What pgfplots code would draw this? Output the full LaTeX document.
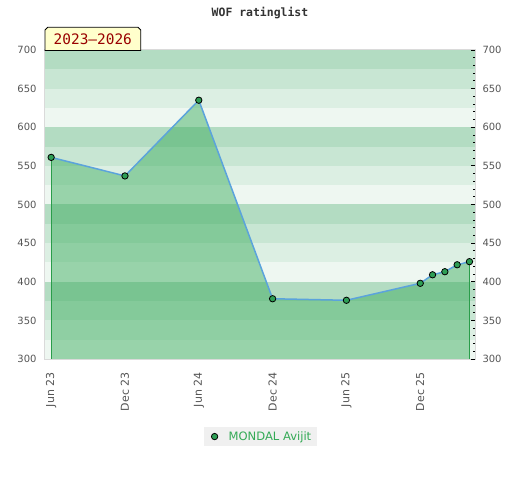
\documentclass[border=0pt]{standalone}
\usepackage{pgfplots}
\pgfplotsset{compat=1.18}
\usepackage{fontspec}
\setmainfont{DejaVu Sans}
\newfontfamily\mono{DejaVu Sans Mono}
\definecolor{bandA}{HTML}{B3DCC2}
\definecolor{bandB}{HTML}{C8E6D3}
\definecolor{bandC}{HTML}{DCEFE3}
\definecolor{bandD}{HTML}{EEF7F1}
\definecolor{areafill}{RGB}{57,171,91}
\definecolor{linecol}{HTML}{5BA3DC}
\definecolor{markcol}{HTML}{2E9E55}
\definecolor{edgecol}{HTML}{2A9D4A}
\definecolor{ticklab}{HTML}{555555}
\definecolor{framecol}{HTML}{DADADA}
\definecolor{boxfill}{HTML}{FFFFCC}
\definecolor{boxtext}{HTML}{990000}
\definecolor{legtext}{HTML}{33AA55}
\definecolor{legfill}{HTML}{F0F0F0}
\pgfplotstableread{
x y
0 561
6 537
12 635
18 378
24 376
30 398
31 409
32 413
33 422
34 426
}\ratings
\begin{document}
\begin{tikzpicture}
\path[use as bounding box] (0,0) rectangle (520bp,480bp);
\begin{axis}[
  at={(45bp,121bp)}, anchor=south west,
  scale only axis, width=430bp, height=309bp,
  xmin=-0.5, xmax=34.45, ymin=300, ymax=700,
  axis line style={draw=framecol, line width=1.2bp},
  xtick={0,6,12,18,24,30},
  xticklabels={Jun 23,Dec 23,Jun 24,Dec 24,Jun 25,Dec 25},
  x tick label style={rotate=90, anchor=east, font=\fontsize{11}{13}\selectfont, text=ticklab, xshift=-10bp},
  ytick={300,350,...,700},
  yticklabel pos=left,
  y tick label style={font=\fontsize{10}{12}\selectfont, text=ticklab, xshift=-5bp},
  /pgf/number format/assume math mode=true,
  major tick length=0pt, minor tick length=0pt,
  tick style={draw=none},
  legend style={at={(0.501,-0.251)}, anchor=center, fill=legfill, draw=none,
    font=\fontsize{11.6}{14}\selectfont, text=legtext, inner xsep=4bp, inner ysep=2.5bp},
  legend cell align=left,
  legend image code/.code={\path[draw=none,fill=none] (-7bp,0bp) -- (12bp,0bp); \draw[#1] plot coordinates {(0bp,0bp)};},
]
\fill[bandA] (axis cs:-0.5,675) rectangle (axis cs:34.45,700);
\fill[bandB] (axis cs:-0.5,650) rectangle (axis cs:34.45,675);
\fill[bandC] (axis cs:-0.5,625) rectangle (axis cs:34.45,650);
\fill[bandD] (axis cs:-0.5,600) rectangle (axis cs:34.45,625);
\fill[bandA] (axis cs:-0.5,575) rectangle (axis cs:34.45,600);
\fill[bandB] (axis cs:-0.5,550) rectangle (axis cs:34.45,575);
\fill[bandC] (axis cs:-0.5,525) rectangle (axis cs:34.45,550);
\fill[bandD] (axis cs:-0.5,500) rectangle (axis cs:34.45,525);
\fill[bandA] (axis cs:-0.5,475) rectangle (axis cs:34.45,500);
\fill[bandB] (axis cs:-0.5,450) rectangle (axis cs:34.45,475);
\fill[bandC] (axis cs:-0.5,425) rectangle (axis cs:34.45,450);
\fill[bandD] (axis cs:-0.5,400) rectangle (axis cs:34.45,425);
\fill[bandA] (axis cs:-0.5,375) rectangle (axis cs:34.45,400);
\fill[bandB] (axis cs:-0.5,350) rectangle (axis cs:34.45,375);
\fill[bandC] (axis cs:-0.5,325) rectangle (axis cs:34.45,350);
\fill[bandD] (axis cs:-0.5,300) rectangle (axis cs:34.45,325);
\addplot[fill=areafill, fill opacity=0.47, draw=none, forget plot] table[x=x,y=y] {\ratings} \closedcycle;
\addplot[edgecol, line width=1bp, forget plot] coordinates {(0,300) (0,561)};
\addplot[edgecol, line width=1bp, forget plot] coordinates {(34,300) (34,426)};
\addplot[linecol, line width=1.5bp, forget plot] table[x=x,y=y] {\ratings};
\addplot[only marks, mark=*, mark size=3.2bp, mark options={fill=markcol, draw=black, line width=0.8bp}] table[x=x,y=y] {\ratings};
\addlegendentry{MONDAL Avijit}
\end{axis}
\begin{axis}[
  at={(45bp,121bp)}, anchor=south west,
  scale only axis, width=430bp, height=309bp,
  xmin=-0.5, xmax=34.45, ymin=300, ymax=700,
  axis y line*=right, axis x line=none,
  axis line style={draw=none},
  ytick={300,350,...,700},
  minor y tick num=4,
  tick align=inside,
  major tick length=4.5bp, minor tick length=2.5bp,
  tick style={draw=black, line width=0.8bp},
  y tick label style={font=\fontsize{10}{12}\selectfont, text=ticklab, xshift=4bp},
  /pgf/number format/assume math mode=true,
]
\end{axis}
\node[font=\mono\bfseries\fontsize{11.5}{13}\selectfont, text=black!80] at (260bp,467bp) {WOF ratinglist};
\filldraw[fill=boxfill, draw=black, line width=0.9bp] (45bp,429.5bp) -- (45bp,450bp) -- (47.7bp,452.7bp) -- (138bp,452.7bp) -- (140.7bp,450bp) -- (140.7bp,429.5bp) -- cycle;
\node[font=\mono\fontsize{14.5}{16}\selectfont, text=boxtext] at (92.8bp,440.5bp) {2023–2026};
\end{tikzpicture}
\end{document}
